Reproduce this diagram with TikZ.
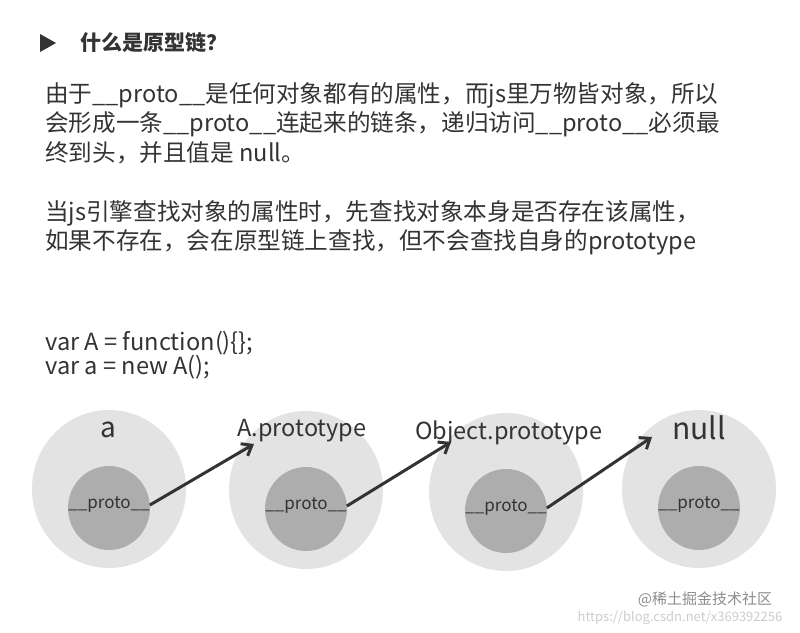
\documentclass[tikz,border=0pt]{standalone}
\usepackage{fontspec}
\setmainfont{Noto Sans CJK SC}
\usetikzlibrary{arrows.meta}
\definecolor{outerc}{HTML}{E3E3E3}
\definecolor{innerc}{HTML}{ADADAD}
\definecolor{inkc}{HTML}{333333}
\tikzset{
  txt/.style={anchor=west,inner sep=0pt,text=inkc,font=\fontsize{23.6}{26}\selectfont},
  lbl/.style={text=inkc,inner sep=0pt,font=\fontsize{23.5}{26}\selectfont},
  link/.style={-{Straight Barb[length=9pt,width=14pt,line width=3pt]},line width=3pt,draw=inkc}
}
\begin{document}
\begin{tikzpicture}[x=1pt,y=-1pt]
\useasboundingbox (0,0) rectangle (800,632);
  \fill[inkc] (40,34)--(56,43)--(40,52)--cycle;
  \node[txt,font=\fontsize{21}{24}\selectfont\bfseries] (title) at (80,43) {什么是原型链？};
  \node[txt] (l1) at (45,95) {由于\_\_proto\_\_是任何对象都有的属性，而js里万物皆对象，所以};
  \node[txt] (l2) at (45,124) {会形成一条\_\_proto\_\_连起来的链条，递归访问\_\_proto\_\_必须最};
  \node[txt] (l3) at (45,153) {终到头，并且值是 null。};
  \node[txt] (l4) at (45,213) {当js引擎查找对象的属性时，先查找对象本身是否存在该属性，};
  \node[txt] (l5) at (45,242) {如果不存在，会在原型链上查找，但不会查找自身的prototype};
  \node[txt] (c1) at (45,343) {var A = function()\{\};};
  \node[txt] (c2) at (45,367) {var a = new A();};
  % chain of objects
  \foreach \n/\x/\y in {1/109/489/,2/306/490,3/506/492,4/699/489}{
    \fill[outerc] (\x,\y) ellipse [x radius=77, y radius=79];
    \fill[innerc] (\x,\y+19) ellipse [x radius=41, y radius=42];
    \node[lbl,font=\fontsize{17}{20}\selectfont] (p\n) at (\x,\y+16) {\_\_proto\_\_};
  }
  \node[lbl,font=\fontsize{28}{30}\selectfont] (na) at (108,430) {a};
  \node[lbl] (nb) at (302,431) {A.prototype};
  \node[lbl] (nc) at (509,433) {Object.prototype};
  \node[lbl,font=\fontsize{30}{32}\selectfont] (nd) at (699,428) {null};
  \coordinate (t1) at (254,444);
  \coordinate (t2) at (451,442);
  \coordinate (t3) at (652,437);
  \draw[link] (p1.east) -- (t1);
  \draw[link] (p2.east) -- (t2);
  \draw[link] (p3.east) -- (t3);
  \node[text=black!20,inner sep=0pt,font=\fontsize{13}{15}\selectfont] (url) at (680,618) {https://blog.csdn.net/x369392256};
  \node[text=black!45,inner sep=0pt,font=\fontsize{15}{18}\selectfont] (wm) at (705,599) {@稀土掘金技术社区};
\end{tikzpicture}
\end{document}
